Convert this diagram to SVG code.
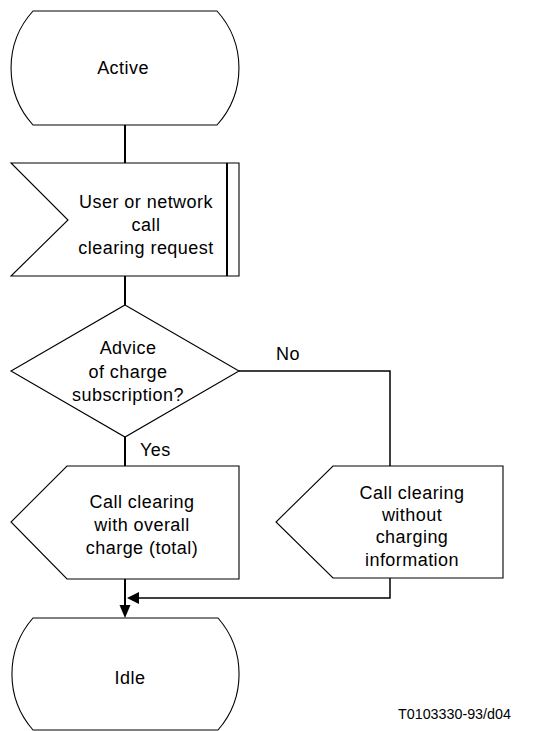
<svg xmlns="http://www.w3.org/2000/svg" width="538" height="731" viewBox="0 0 538 731">
<style>
.shape{fill:#fff;stroke:#000;stroke-width:1.1}
.t{font-family:"Liberation Sans",Arial,sans-serif;font-size:18px;letter-spacing:0.45px;fill:#000;text-anchor:middle}
.lbl{font-family:"Liberation Sans",Arial,sans-serif;font-size:18px;letter-spacing:0.45px;fill:#000}
.main{fill:none;stroke:#000;stroke-width:2}
.thin{fill:none;stroke:#000;stroke-width:1.5}
</style>
<rect width="538" height="731" fill="#fff"/>
<g id="connectors">
<path class="main" d="M125 125 V163"/>
<path class="main" d="M125 276 V305"/>
<path class="main" d="M125 437 V466"/>
<path class="thin" d="M239 371 H390 V466"/>
<path class="main" d="M125 579 V606"/>
<polygon points="119.5,605 130.5,605 125,618" fill="#000"/>
<path class="thin" d="M390 578 V598 H138"/>
<polygon points="139,592 139,604 127,598" fill="#000"/>
<text class="lbl" x="276" y="360">No</text>
<text class="lbl" x="140" y="456">Yes</text>
</g>
<g id="active">
<path class="shape" d="M33 11 H217 A85 85 0 0 1 217 125 H33 A85 85 0 0 1 33 11 Z"/>
<text class="t" x="123" y="74">Active</text>
</g>
<g id="request">
<path class="shape" d="M11 163 H239 V276 H11 L68 220 Z"/>
<line x1="227" y1="163" x2="227" y2="276" stroke="#000" stroke-width="2"/>
<text class="t" x="146" y="208">User or network</text>
<text class="t" x="146" y="231">call</text>
<text class="t" x="146" y="254">clearing request</text>
</g>
<g id="decision">
<path class="shape" d="M125 305 L239 371 L125 437 L11 371 Z"/>
<text class="t" x="128" y="354">Advice</text>
<text class="t" x="128" y="378">of charge</text>
<text class="t" x="128" y="401">subscription?</text>
</g>
<g id="out-total">
<path class="shape" d="M67 466 H239 V579 H67 L11 522 Z"/>
<text class="t" x="142" y="508">Call clearing</text>
<text class="t" x="142" y="531">with overall</text>
<text class="t" x="142" y="554">charge (total)</text>
</g>
<g id="out-nocharge">
<path class="shape" d="M333 466 H503 V578 H333 L276 522 Z"/>
<text class="t" x="412" y="499">Call clearing</text>
<text class="t" x="412" y="521">without</text>
<text class="t" x="412" y="543">charging</text>
<text class="t" x="412" y="566">information</text>
</g>
<g id="idle">
<path class="shape" d="M33 618 H218 A85 85 0 0 1 218 730 H33 A85 85 0 0 1 33 618 Z"/>
<text class="t" x="130" y="684">Idle</text>
</g>
<text x="398" y="719" font-family="Liberation Sans, Arial, sans-serif" font-size="14.3" fill="#000">T0103330-93/d04</text>
</svg>
